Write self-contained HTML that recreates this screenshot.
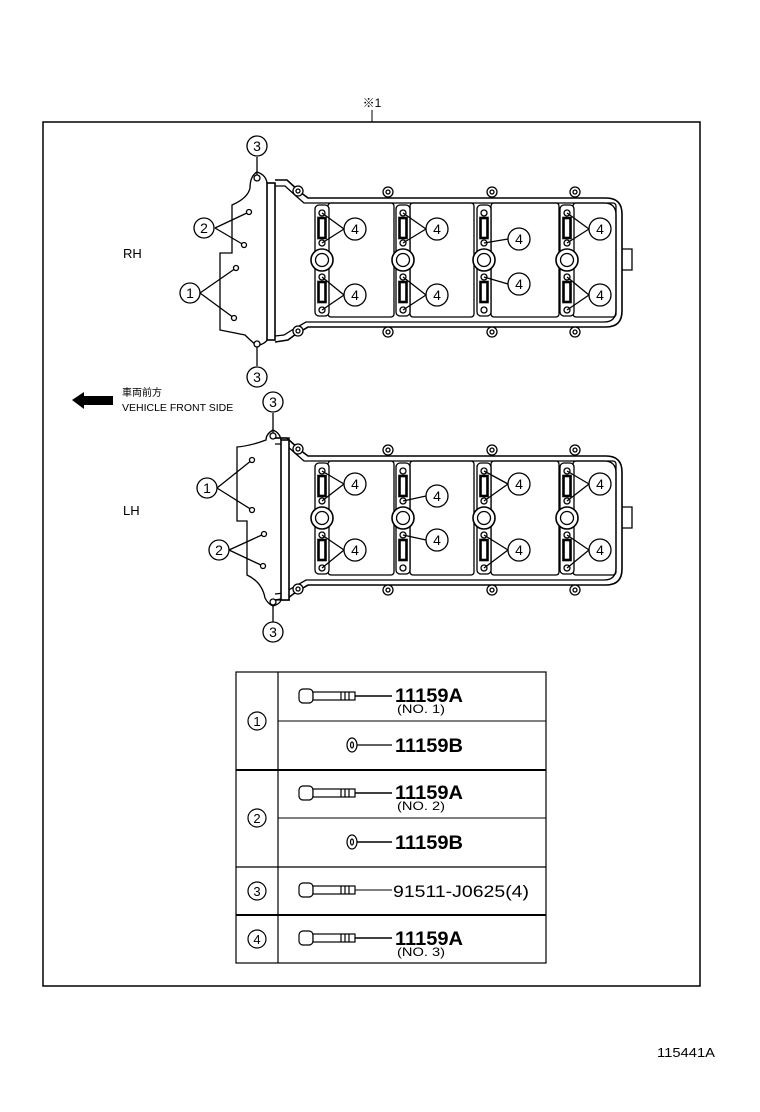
<!DOCTYPE html>
<html><head><meta charset="utf-8"><style>
html,body{margin:0;padding:0;background:#fff;}
svg{display:block;}
text{font-family:"Liberation Sans","Noto Sans CJK JP",sans-serif;fill:#000;}
</style></head><body>
<svg width="760" height="1112" viewBox="0 0 760 1112" xmlns="http://www.w3.org/2000/svg">
<defs>
<g id="body" fill="none" stroke="#000" stroke-width="1.3">
  <path d="M275,180 L287,180 L300,192 L308,198 L606,198 Q622,198 622,214 L622,311 Q622,327 606,327 L308,327 L296,334 L288,340 L275,342" stroke-width="1.6"/>
  <path d="M275,186 L285,186 L296,196 L304,203 L604,203 Q616,203 616,215 L616,310 Q616,322 604,322 L306,322 L292,330 L284,335 L275,336"/>
  <rect x="328" y="203" width="66" height="114" rx="3"/>
  <rect x="410" y="203" width="64" height="114" rx="3"/>
  <rect x="491" y="203" width="68" height="114" rx="3"/>
  <rect x="573" y="203" width="43" height="114" rx="3"/>
  <g fill="#fff">
   <circle cx="298" cy="191" r="5"/><circle cx="388" cy="192" r="5"/><circle cx="492" cy="192" r="5"/><circle cx="575" cy="192" r="5"/>
   <circle cx="298" cy="331" r="5"/><circle cx="388" cy="332" r="5"/><circle cx="492" cy="332" r="5"/><circle cx="575" cy="332" r="5"/>
  </g>
  <g fill="#fff">
   <circle cx="298" cy="191" r="2"/><circle cx="388" cy="192" r="2"/><circle cx="492" cy="192" r="2"/><circle cx="575" cy="192" r="2"/>
   <circle cx="298" cy="331" r="2"/><circle cx="388" cy="332" r="2"/><circle cx="492" cy="332" r="2"/><circle cx="575" cy="332" r="2"/>
  </g>
  <path d="M622,249 L632,249 L632,270 L622,270"/>
</g>
<g id="col" stroke="#000" stroke-width="1.3">
  <rect x="-7" y="205" width="14" height="111" rx="4" fill="#fff"/>
  <rect x="-3.5" y="218" width="7" height="20" fill="#fff" stroke-width="2.6"/>
  <rect x="-3.5" y="282" width="7" height="20" fill="#fff" stroke-width="2.6"/>
  <circle cx="0" cy="260" r="11" fill="#fff" stroke-width="1.6"/>
  <circle cx="0" cy="260" r="6.5" fill="#fff"/>
  <circle cx="0" cy="213" r="3" fill="#fff"/>
  <circle cx="0" cy="243" r="3" fill="#fff"/>
  <circle cx="0" cy="277" r="3" fill="#fff"/>
  <circle cx="0" cy="310" r="3" fill="#fff"/>
</g>
</defs>

<text x="372" y="107" font-size="12" text-anchor="middle">※1</text>
<line x1="372" y1="110" x2="372" y2="122" stroke="#000"/>
<rect x="43" y="122" width="657" height="864" fill="none" stroke="#000" stroke-width="1.5"/>

<!-- RH -->
<use href="#body"/>
<use href="#col" transform="translate(322,0)"/>
<use href="#col" transform="translate(403,0)"/>
<use href="#col" transform="translate(484,0)"/>
<use href="#col" transform="translate(567,0)"/>
<g fill="none" stroke="#000" stroke-width="1.3">
  <path d="M257,172 Q250,176 250,188 Q248,198 232,205 L232,253 L220,253 L220,330 L245,335 Q250,340 257,346" fill="#fff"/>
  <rect x="267" y="183" width="8" height="157" fill="#fff" stroke-width="1.6"/>
  <path d="M257,172 Q266,175 267,183 M257,346 Q266,343 267,340"/>
  <circle cx="257" cy="178" r="3" fill="#fff"/>
  <circle cx="257" cy="344" r="3" fill="#fff"/>
  <line x1="257" y1="157" x2="257" y2="175"/>
  <line x1="257" y1="347" x2="257" y2="366"/>
  <path d="M215,228 L249,212 M215,228 L244,245 M200,293 L236,268 M200,293 L234,318"/>
  <circle cx="249" cy="212" r="2.5" fill="#fff"/><circle cx="244" cy="245" r="2.5" fill="#fff"/>
  <circle cx="236" cy="268" r="2.5" fill="#fff"/><circle cx="234" cy="318" r="2.5" fill="#fff"/>
  <path d="M344,229 L322,213 M344,229 L322,243 M344,295 L322,277 M344,295 L322,310"/>
  <path d="M426,229 L403,213 M426,229 L403,243 M426,295 L403,277 M426,295 L403,310"/>
  <path d="M508,239 L484,243 M508,284 L484,277"/>
  <path d="M589,229 L567,213 M589,229 L567,243 M589,295 L567,277 M589,295 L567,310"/>
</g>
<g fill="#fff" stroke="#000" stroke-width="1.3">
  <circle cx="257" cy="146" r="10"/><circle cx="257" cy="377" r="10"/>
  <circle cx="204" cy="228" r="10"/><circle cx="190" cy="293" r="10"/>
  <circle cx="355" cy="229" r="11"/><circle cx="355" cy="295" r="11"/>
  <circle cx="437" cy="229" r="11"/><circle cx="437" cy="295" r="11"/>
  <circle cx="519" cy="239" r="11"/><circle cx="519" cy="284" r="11"/>
  <circle cx="600" cy="229" r="11"/><circle cx="600" cy="295" r="11"/>
</g>
<g font-size="14" text-anchor="middle">
  <text x="257" y="151">3</text><text x="257" y="382">3</text>
  <text x="204" y="233">2</text><text x="190" y="298">1</text>
  <text x="355" y="234">4</text><text x="355" y="300">4</text>
  <text x="437" y="234">4</text><text x="437" y="300">4</text>
  <text x="519" y="244">4</text><text x="519" y="289">4</text>
  <text x="600" y="234">4</text><text x="600" y="300">4</text>
</g>
<text x="123" y="258" font-size="13">RH</text>

<!-- arrow -->
<polygon points="72,400 84,392 84,396 113,396 113,405 84,405 84,409" fill="#000"/>
<text x="122" y="396" font-size="10">車両前方</text>
<text x="122" y="411" font-size="10.5">VEHICLE FRONT SIDE</text>

<!-- LH -->
<g transform="translate(0,258)">
<use href="#body"/>
<use href="#col" transform="translate(322,0)"/>
<use href="#col" transform="translate(403,0)"/>
<use href="#col" transform="translate(484,0)"/>
<use href="#col" transform="translate(567,0)"/>
</g>
<g fill="none" stroke="#000" stroke-width="1.3">
  <path d="M275,438 L290,438 M275,600 L290,600"/>
  <path d="M273,430 Q266,434 266,440 Q250,446 237,447 L237,521 L247,521 L247,575 Q262,582 265,598 Q268,604 273,606" fill="#fff"/>
  <rect x="281" y="440" width="8" height="160" fill="#fff" stroke-width="1.6"/>
  <path d="M273,430 Q280,433 281,440 M273,606 Q280,604 281,600"/>
  <circle cx="273" cy="436" r="3" fill="#fff"/>
  <circle cx="273" cy="602" r="3" fill="#fff"/>
  <line x1="273" y1="413" x2="273" y2="433"/>
  <line x1="273" y1="605" x2="273" y2="622"/>
  <path d="M217,488 L252,460 M217,488 L252,510 M229,550 L264,534 M229,550 L263,566"/>
  <circle cx="252" cy="460" r="2.5" fill="#fff"/><circle cx="252" cy="510" r="2.5" fill="#fff"/>
  <circle cx="264" cy="534" r="2.5" fill="#fff"/><circle cx="263" cy="566" r="2.5" fill="#fff"/>
  <path d="M344,484 L322,471 M344,484 L322,501 M344,550 L322,535 M344,550 L322,568"/>
  <path d="M426,496 L403,501 M426,540 L403,535"/>
  <path d="M508,484 L484,471 M508,484 L484,501 M508,550 L484,535 M508,550 L484,568"/>
  <path d="M589,484 L567,471 M589,484 L567,501 M589,550 L567,535 M589,550 L567,568"/>
</g>
<g fill="#fff" stroke="#000" stroke-width="1.3">
  <circle cx="273" cy="402" r="10"/><circle cx="273" cy="632" r="10"/>
  <circle cx="207" cy="488" r="10"/><circle cx="219" cy="550" r="10"/>
  <circle cx="355" cy="484" r="11"/><circle cx="355" cy="550" r="11"/>
  <circle cx="437" cy="496" r="11"/><circle cx="437" cy="540" r="11"/>
  <circle cx="519" cy="484" r="11"/><circle cx="519" cy="550" r="11"/>
  <circle cx="600" cy="484" r="11"/><circle cx="600" cy="550" r="11"/>
</g>
<g font-size="14" text-anchor="middle">
  <text x="273" y="407">3</text><text x="273" y="637">3</text>
  <text x="207" y="493">1</text><text x="219" y="555">2</text>
  <text x="355" y="489">4</text><text x="355" y="555">4</text>
  <text x="437" y="501">4</text><text x="437" y="545">4</text>
  <text x="519" y="489">4</text><text x="519" y="555">4</text>
  <text x="600" y="489">4</text><text x="600" y="555">4</text>
</g>
<text x="123" y="515" font-size="13">LH</text>

<!-- table -->
<g fill="none" stroke="#000">
  <rect x="236" y="672" width="310" height="291" stroke-width="1.2"/>
  <line x1="278" y1="672" x2="278" y2="963" stroke-width="1.2"/>
  <line x1="278" y1="721" x2="546" y2="721"/>
  <line x1="236" y1="770" x2="546" y2="770" stroke-width="2"/>
  <line x1="278" y1="818" x2="546" y2="818"/>
  <line x1="236" y1="867" x2="546" y2="867" stroke-width="1.3"/>
  <line x1="236" y1="915" x2="546" y2="915" stroke-width="2"/>
</g>
<g fill="#fff" stroke="#000" stroke-width="1.2">
  <circle cx="257" cy="721" r="9"/><circle cx="257" cy="818" r="9"/>
  <circle cx="257" cy="891" r="9"/><circle cx="257" cy="939" r="9"/>
</g>
<g font-size="13" text-anchor="middle">
  <text x="257" y="726">1</text><text x="257" y="823">2</text>
  <text x="257" y="896">3</text><text x="257" y="944">4</text>
</g>
<!-- bolts -->
<g fill="#fff" stroke="#000" stroke-width="1.2">
  <rect x="299" y="689" width="14" height="14" rx="4"/>
  <rect x="313" y="692" width="42" height="8"/>
  <line x1="341" y1="692" x2="341" y2="700"/><line x1="345" y1="692" x2="345" y2="700"/><line x1="349" y1="692" x2="349" y2="700"/>
  <line x1="355" y1="696" x2="392" y2="696" stroke-width="1.5"/>
</g>
<g transform="translate(0,97)" fill="#fff" stroke="#000" stroke-width="1.2">
  <rect x="299" y="689" width="14" height="14" rx="4"/>
  <rect x="313" y="692" width="42" height="8"/>
  <line x1="341" y1="692" x2="341" y2="700"/><line x1="345" y1="692" x2="345" y2="700"/><line x1="349" y1="692" x2="349" y2="700"/>
  <line x1="355" y1="696" x2="392" y2="696" stroke-width="1.5"/>
</g>
<g transform="translate(0,194)" fill="#fff" stroke="#000" stroke-width="1.2">
  <rect x="299" y="689" width="14" height="14" rx="4"/>
  <rect x="313" y="692" width="42" height="8"/>
  <line x1="341" y1="692" x2="341" y2="700"/><line x1="345" y1="692" x2="345" y2="700"/><line x1="349" y1="692" x2="349" y2="700"/>
  <line x1="355" y1="696" x2="392" y2="696" stroke-width="1"/>
</g>
<g transform="translate(0,242)" fill="#fff" stroke="#000" stroke-width="1.2">
  <rect x="299" y="689" width="14" height="14" rx="4"/>
  <rect x="313" y="692" width="42" height="8"/>
  <line x1="341" y1="692" x2="341" y2="700"/><line x1="345" y1="692" x2="345" y2="700"/><line x1="349" y1="692" x2="349" y2="700"/>
  <line x1="355" y1="696" x2="392" y2="696" stroke-width="1.5"/>
</g>
<g fill="#fff" stroke="#000" stroke-width="1.2">
  <ellipse cx="352" cy="745" rx="5" ry="7"/><ellipse cx="352" cy="745" rx="1.5" ry="3"/>
  <line x1="357" y1="745" x2="392" y2="745"/>
  <ellipse cx="352" cy="842" rx="5" ry="7"/><ellipse cx="352" cy="842" rx="1.5" ry="3"/>
  <line x1="357" y1="842" x2="392" y2="842" stroke-width="1.6"/>
</g>
<g font-weight="bold" font-size="19">
  <text x="395" y="702" textLength="68" lengthAdjust="spacingAndGlyphs">11159A</text>
  <text x="395" y="752" textLength="68" lengthAdjust="spacingAndGlyphs">11159B</text>
  <text x="395" y="799" textLength="68" lengthAdjust="spacingAndGlyphs">11159A</text>
  <text x="395" y="849" textLength="68" lengthAdjust="spacingAndGlyphs">11159B</text>
  <text x="395" y="945" textLength="68" lengthAdjust="spacingAndGlyphs">11159A</text>
</g>
<g font-size="12">
  <text x="397" y="713" textLength="48" lengthAdjust="spacingAndGlyphs">(NO. 1)</text>
  <text x="397" y="810" textLength="48" lengthAdjust="spacingAndGlyphs">(NO. 2)</text>
  <text x="397" y="956" textLength="48" lengthAdjust="spacingAndGlyphs">(NO. 3)</text>
</g>
<text x="393" y="897" font-size="17" font-family="Liberation Mono, monospace" textLength="136" lengthAdjust="spacingAndGlyphs">91511-J0625(4)</text>

<text x="657" y="1057" font-size="13" textLength="58" lengthAdjust="spacingAndGlyphs">115441A</text>
</svg>
</body></html>
